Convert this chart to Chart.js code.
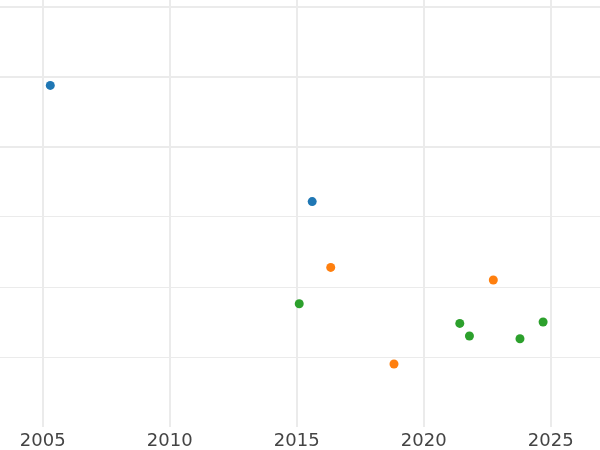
<!DOCTYPE html>
<html>
<head>
<meta charset="utf-8">
<script src="https://cdn.jsdelivr.net/npm/chart.js@4/dist/chart.umd.min.js"></script>
<style>
  html, body { margin: 0; padding: 0; background: #fff; }
</style>
</head>
<body>
<canvas id="chart" width="600" height="450"></canvas>
<script>
// data: [year, value]
const blueYears = [2005.30, 2015.61];
const blueValues = [4.88, 3.22];
const orangeYears = [2016.34, 2018.83, 2022.74];
const orangeValues = [2.28, 0.90, 2.10];
const greenYears = [2015.10, 2021.42, 2021.80, 2023.79, 2024.70];
const greenValues = [1.76, 1.48, 1.30, 1.26, 1.50];
const xTicks = [2005, 2010, 2015, 2020, 2025];
const yTicks = [1, 2, 3, 4, 5, 6];

const pts = (xs, ys) => xs.map((x, i) => ({ x: x, y: ys[i] }));

const ctx = document.getElementById("chart");
new Chart(ctx, {
  type: "scatter",
  data: {
    datasets: [
      { data: pts(blueYears, blueValues), backgroundColor: "#1f77b4" },
      { data: pts(orangeYears, orangeValues), backgroundColor: "#ff7f0e" },
      { data: pts(greenYears, greenValues), backgroundColor: "#2ca02c" }
    ]
  },
  options: {
    responsive: false,
    animation: false,
    layout: { padding: 0, autoPadding: false },
    elements: { point: { radius: 4.5, borderWidth: 0, hoverRadius: 4.5 } },
    plugins: { legend: { display: false }, tooltip: { enabled: false } },
    scales: {
      x: {
        type: "linear",
        min: 2003.32,
        max: 2026.94,
        afterBuildTicks: axis => { axis.ticks = xTicks.map(v => ({ value: v })); },
        afterFit: axis => { axis.height = 23; },
        grid: { color: "#ebebeb", lineWidth: 2, drawTicks: false },
        border: { display: false },
        ticks: {
          padding: 5,
          color: "#444",
          font: { family: "DejaVu Sans", size: 18, lineHeight: 1.0 },
          callback: v => String(v)
        }
      },
      y: {
        min: 0,
        max: 6.1,
        afterBuildTicks: axis => { axis.ticks = yTicks.map(v => ({ value: v })); },
        grid: {
          color: "#ebebeb",
          lineWidth: c => (c.tick && c.tick.value >= 4 ? 2 : 1),
          drawTicks: false
        },
        border: { display: false },
        ticks: { display: false }
      }
    }
  }
});
</script>
</body>
</html>
